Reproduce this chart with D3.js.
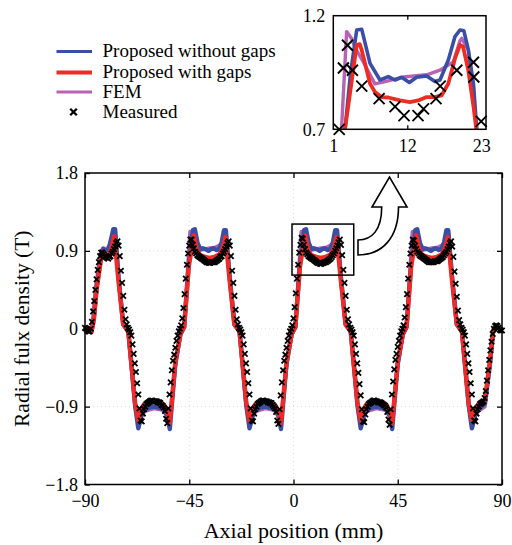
<!DOCTYPE html>
<html><head><meta charset="utf-8">
<script src="https://cdn.jsdelivr.net/npm/d3@7"></script>
<style>
html,body{margin:0;padding:0;background:#fff;}
text{font-family:"Liberation Serif","Times New Roman",serif;fill:#000;}
</style></head>
<body><svg id="c" width="512" height="545"></svg>
<script>
// ---------- DATA ----------
const xTicks = [-90, -45, 0, 45, 90];
const yTicks = [-1.8, -0.9, 0, 0.9, 1.8];
const insetXTicks = [1, 12, 23];
const insetYTicks = [0.7, 1.2];
const legendLabels = ["Proposed without gaps", "Proposed with gaps", "FEM", "Measured"];

const blueX = [-90,-88.6,-87.2,-86.2,-85.0,-83.0,-82.1,-80.8,-79.8,-78.6,-77.8,-77.0,
 -75.5,-73.5,-71.3,-68.4,-67.0,-65.8,-64.6,-62.2,-60.2,
 -58.2,-56.2,-54.6,-53.4,-51.0,-48.8,-47.2,-45.2,-43.4,-42.6,-41.4,-40.2,-39.2,-38.0,-36.7,-35.6,-34.4,-33.2,-32.2,-31.0,-30.0,-29.2,-27.5,-25.5,-23.3,-20.4,-19.0,-17.8,-16.6,-14.2,-12.2,
 -10.2,-8.2,-6.6,-5.4,-3.0,-0.8,0.8,2.8,4.6,5.4,6.6,7.8,8.8,10.0,11.3,12.4,13.6,14.8,15.8,17.0,18.0,18.8,20.5,22.5,24.7,27.6,29.0,30.2,31.4,33.8,35.8,
 37.8,39.8,41.4,42.6,45.0,47.2,48.8,50.8,52.6,53.4,54.6,55.8,56.8,58.0,59.3,60.4,61.6,62.8,63.8,65.0,66.0,66.8,68.5,70.5,72.7,75.6,77.0,
 78.2,79.6,81.2,82.6,84.8,86.2,87.7,90];
const blueB = [0.02,0.0,-0.03,0.12,0.48,0.86,0.92,0.90,0.92,1.05,1.15,1.15,
 0.58,0.05,-0.03,-0.88,-1.15,-1.02,-0.94,-0.91,-0.90,
 -0.91,-0.93,-1.0,-1.16,-0.40,-0.06,0.02,0.76,1.14,1.15,0.99,0.92,0.93,0.92,0.90,0.92,0.93,0.91,0.92,1.0,1.14,1.14,0.58,0.05,-0.03,-0.88,-1.15,-1.02,-0.94,-0.91,-0.90,
 -0.91,-0.93,-1.0,-1.16,-0.40,-0.06,0.02,0.76,1.14,1.15,0.99,0.92,0.93,0.92,0.90,0.92,0.93,0.91,0.92,1.0,1.14,1.14,0.58,0.05,-0.03,-0.88,-1.15,-1.02,-0.94,-0.91,-0.90,
 -0.91,-0.93,-1.0,-1.16,-0.40,-0.06,0.02,0.76,1.14,1.15,0.99,0.92,0.93,0.92,0.90,0.92,0.93,0.91,0.92,1.0,1.14,1.14,0.58,0.05,-0.03,-0.88,-1.15,
 -1.02,-0.93,-0.90,-0.86,-0.40,-0.02,0.03,-0.03];

const redX = [-90,-88.6,-87.2,-86.2,-85.0,-83.0,-82.1,-80.8,-79.8,-78.6,-77.4,
 -75.5,-73.5,-71.3,-68.4,-67.0,-65.8,-64.4,-62.2,-60.2,
 -58.0,-56.0,-54.6,-53.4,-51.0,-48.8,-47.2,-45.2,-43.0,-41.8,-40.4,-38.2,-36.2,-34.2,-32.0,-30.6,-29.4,-27.5,-25.5,-23.3,-20.4,-19.0,-17.8,-16.4,-14.2,-12.2,
 -10.0,-8.0,-6.6,-5.4,-3.0,-0.8,0.8,2.8,5.0,6.2,7.6,9.8,11.8,13.8,16.0,17.4,18.6,20.5,22.5,24.7,27.6,29.0,30.2,31.6,33.8,35.8,
 38.0,40.0,41.4,42.6,45.0,47.2,48.8,50.8,53.0,54.2,55.6,57.8,59.8,61.8,64.0,65.4,66.6,68.5,70.5,72.7,75.6,77.0,
 78.2,79.6,81.2,82.6,84.8,86.2,87.7,90];
const redB = [0.01,0.0,-0.04,0.10,0.45,0.82,0.89,0.84,0.84,0.93,1.07,
 0.54,0.05,-0.03,-0.85,-1.06,-0.93,-0.87,-0.85,-0.84,
 -0.86,-0.88,-0.95,-1.09,-0.38,-0.06,0.02,0.72,1.08,0.92,0.85,0.83,0.82,0.83,0.86,0.93,1.06,0.54,0.05,-0.03,-0.85,-1.06,-0.93,-0.87,-0.85,-0.84,
 -0.86,-0.88,-0.95,-1.09,-0.38,-0.06,0.02,0.72,1.08,0.92,0.85,0.83,0.82,0.83,0.86,0.93,1.06,0.54,0.05,-0.03,-0.85,-1.06,-0.93,-0.87,-0.85,-0.84,
 -0.86,-0.88,-0.95,-1.09,-0.38,-0.06,0.02,0.72,1.08,0.92,0.85,0.83,0.82,0.83,0.86,0.93,1.06,0.54,0.05,-0.03,-0.85,-1.06,
 -0.93,-0.88,-0.85,-0.82,-0.38,-0.02,0.03,-0.03];

const femX = [-90,-88.6,-87.4,-86.4,-85.2,-83.2,-82.2,-80.8,-79.6,-78.4,-77.6,-77.0,
 -75.5,-73.5,-71.3,-68.4,-66.8,-65.6,-64.2,-60.2,
 -56.2,-54.6,-53.6,-51.0,-48.8,-47.2,-45.8,-44.6,-43.8,-42.4,-40.8,-38.2,-36.2,-33.6,-32.0,-30.4,-29.6,-29.2,-27.5,-25.5,-23.3,-20.4,-18.8,-17.6,-16.2,-12.2,
 -8.2,-6.6,-5.6,-3.0,-0.8,0.8,2.2,3.4,4.2,5.6,7.2,9.8,11.8,14.4,16.0,17.6,18.4,18.8,20.5,22.5,24.7,27.6,29.2,30.4,31.8,35.8,
 39.8,41.4,42.4,45.0,47.2,48.8,50.2,51.4,52.2,53.6,55.2,57.8,59.8,62.4,64.0,65.6,66.4,66.8,68.5,70.5,72.7,75.6,77.2,
 78.4,79.8,82.6,84.8,86.2,87.7,90];
const femB = [0.02,0.0,-0.03,0.15,0.50,0.88,0.93,0.92,0.95,1.04,1.11,1.10,
 0.60,0.06,-0.03,-0.88,-1.13,-1.0,-0.95,-0.92,
 -0.94,-1.0,-1.12,-0.42,-0.07,0.02,0.60,1.12,1.09,0.99,0.91,0.92,0.93,0.94,0.96,1.0,1.09,1.10,0.60,0.06,-0.03,-0.88,-1.13,-1.0,-0.95,-0.92,
 -0.94,-1.0,-1.12,-0.42,-0.07,0.02,0.60,1.12,1.09,0.99,0.91,0.92,0.93,0.94,0.96,1.0,1.09,1.10,0.60,0.06,-0.03,-0.88,-1.13,-1.0,-0.95,-0.92,
 -0.94,-1.0,-1.12,-0.42,-0.07,0.02,0.60,1.12,1.09,0.99,0.91,0.92,0.93,0.94,0.96,1.0,1.09,1.10,0.60,0.06,-0.03,-0.88,-1.13,
 -1.0,-0.95,-0.90,-0.42,-0.03,0.03,-0.03];

const measX = [
 -90,-89.5,-89,-88.5,-88,-87.5,-87,-86.5,-86,-85.5,-85,-84.5,-84,-83.5,-83,-82.5,-82,-81.5,-81,-80.5,
 -80,-79.5,-79,-78.5,-78,-77.5,-77,-76.5,-76,-75.5,-75,-74.5,-74,-73.5,-73,-72.5,-72,-71.5,-71,-70.5,
 -70,-69.5,-69,-68.5,-68,-67.5,-67,-66.5,-66,-65.5,-65,-64.5,-64,-63.5,-63,-62.5,-62,-61.5,-61,-60.5,
 -60,-59.5,-59,-58.5,-58,-57.5,-57,-56.5,-56,-55.5,-55,-54.5,-54,-53.5,-53,-52.5,-52,-51.5,-51,-50.5,
 -50,-49.5,-49,-48.5,-48,-47.5,-47,-46.5,-46,-45.5,-45,-44.5,-44,-43.5,-43,-42.5,-42,-41.5,-41,-40.5,
 -40,-39.5,-39,-38.5,-38,-37.5,-37,-36.5,-36,-35.5,-35,-34.5,-34,-33.5,-33,-32.5,-32,-31.5,-31,-30.5,
 -30,-29.5,-29,-28.5,-28,-27.5,-27,-26.5,-26,-25.5,-25,-24.5,-24,-23.5,-23,-22.5,-22,-21.5,-21,-20.5,
 -20,-19.5,-19,-18.5,-18,-17.5,-17,-16.5,-16,-15.5,-15,-14.5,-14,-13.5,-13,-12.5,-12,-11.5,-11,-10.5,
 -10,-9.5,-9,-8.5,-8,-7.5,-7,-6.5,-6,-5.5,-5,-4.5,-4,-3.5,-3,-2.5,-2,-1.5,-1,-0.5,
 0,0.5,1,1.5,2,2.5,3,3.5,4,4.5,5,5.5,6,6.5,7,7.5,8,8.5,9,9.5,
 10,10.5,11,11.5,12,12.5,13,13.5,14,14.5,15,15.5,16,16.5,17,17.5,18,18.5,19,19.5,
 20,20.5,21,21.5,22,22.5,23,23.5,24,24.5,25,25.5,26,26.5,27,27.5,28,28.5,29,29.5,
 30,30.5,31,31.5,32,32.5,33,33.5,34,34.5,35,35.5,36,36.5,37,37.5,38,38.5,39,39.5,
 40,40.5,41,41.5,42,42.5,43,43.5,44,44.5,45,45.5,46,46.5,47,47.5,48,48.5,49,49.5,
 50,50.5,51,51.5,52,52.5,53,53.5,54,54.5,55,55.5,56,56.5,57,57.5,58,58.5,59,59.5,
 60,60.5,61,61.5,62,62.5,63,63.5,64,64.5,65,65.5,66,66.5,67,67.5,68,68.5,69,69.5,
 70,70.5,71,71.5,72,72.5,73,73.5,74,74.5,75,75.5,76,76.5,77,77.5,78,78.5,79,79.5,
 80,80.5,81,81.5,82,82.5,83,83.5,84,84.5,85,85.5,86,86.5,87,87.5,88,88.5,89,89.5,
 90];
const measB = [
 // x -90 .. -80.5
 0.01,0.00,-0.02,-0.03,-0.03,0.00,0.08,0.20,0.32,0.45,0.57,0.68,0.77,0.84,0.88,0.88,0.86,0.84,0.83,0.82,
 // x -80 .. -60.5
 0.81,0.83,0.84,0.87,0.89,0.92,0.95,0.99,1.01,0.96,0.84,0.67,0.53,0.38,0.22,0.11,0.05,0.01,-0.01,-0.04,
 -0.08,-0.18,-0.29,-0.40,-0.50,-0.63,-0.76,-0.92,-1.06,-1.07,-0.98,-0.93,-0.90,-0.87,-0.86,-0.85,-0.84,-0.83,-0.83,-0.84,
 // x -60 .. -12.5
 -0.84,-0.84,-0.84,-0.85,-0.85,-0.86,-0.88,-0.89,-0.91,-0.95,-1.04,-1.09,
 -0.92,-0.76,-0.62,-0.48,-0.37,-0.30,-0.22,-0.14,-0.08,-0.03,0.00,0.04,
 0.12,0.24,0.40,0.58,0.74,0.87,0.96,1.03,1.03,0.97,0.93,0.89,
 0.87,0.85,0.84,0.83,0.82,0.81,0.80,0.79,0.78,0.77,0.77,0.76,
 0.76,0.77,0.77,0.77,0.77,0.78,0.79,0.80,0.81,0.83,0.84,0.87,
 0.89,0.92,0.95,0.99,1.01,0.96,0.84,0.67,0.53,0.38,0.22,0.11,
 0.05,0.01,-0.01,-0.04,-0.08,-0.18,-0.29,-0.40,-0.50,-0.63,-0.76,-0.92,
 -1.06,-1.07,-0.98,-0.93,-0.90,-0.87,-0.86,-0.85,-0.84,-0.83,-0.83,-0.84,
 // x -12 .. 35.5
 -0.84,-0.84,-0.85,-0.85,-0.86,-0.86,-0.88,-0.90,-0.92,-0.96,-1.06,-1.10,
 -0.93,-0.77,-0.62,-0.48,-0.37,-0.30,-0.22,-0.14,-0.08,-0.03,0.00,0.04,
 0.12,0.25,0.41,0.58,0.74,0.88,0.97,1.05,1.04,0.97,0.92,0.88,
 0.86,0.84,0.83,0.82,0.81,0.80,0.79,0.78,0.77,0.76,0.76,0.75,
 0.75,0.76,0.76,0.77,0.77,0.78,0.79,0.80,0.81,0.83,0.85,0.87,
 0.90,0.93,0.96,1.00,1.03,0.97,0.85,0.68,0.53,0.38,0.22,0.11,
 0.05,0.01,-0.01,-0.04,-0.08,-0.18,-0.29,-0.40,-0.51,-0.64,-0.77,-0.93,
 -1.07,-1.08,-0.99,-0.93,-0.90,-0.87,-0.86,-0.85,-0.84,-0.83,-0.83,-0.84,
 // x 36 .. 77
 -0.84,-0.85,-0.85,-0.85,-0.86,-0.87,-0.88,-0.89,-0.91,-0.96,-1.05,-1.11,
 -0.93,-0.76,-0.61,-0.47,-0.36,-0.29,-0.21,-0.14,-0.08,-0.03,0.00,0.04,
 0.13,0.25,0.40,0.58,0.74,0.87,0.96,1.03,1.02,0.96,0.92,0.89,
 0.87,0.85,0.84,0.83,0.82,0.81,0.80,0.79,0.78,0.77,0.77,0.77,
 0.77,0.77,0.78,0.78,0.78,0.79,0.80,0.81,0.82,0.83,0.85,0.87,
 0.89,0.92,0.95,0.99,1.01,0.95,0.83,0.66,0.52,0.37,0.21,0.10,
 0.05,0.01,-0.01,-0.04,-0.08,-0.18,-0.29,-0.40,-0.50,-0.63,-0.76,
 // x 77.5 .. 90
 -0.92,-1.06,-1.07,-0.98,-0.93,-0.90,-0.87,-0.86,-0.85,-0.84,-0.80,-0.72,-0.60,-0.48,-0.36,-0.25,-0.15,-0.06,0.00,0.03,
 0.04,0.03,0.01,-0.01,-0.02,-0.02];

// zoomed window in the main plot (data units)
const zoomBoxX = [0, 26];
const zoomBoxB = [0.62, 1.21];

// inset (sample index vs T)
const insetBlueX = [2.44,2.74,3.58,4.48,5.23,6.46,7.94,9.18,10.17,11.16,12.30,13.38,14.88,16.11,16.86,18.10,19.09,19.83,20.40,21.07,21.84,22.31,22.56];
const insetBlueB = [0.60,0.70,0.95,1.137,1.14,0.99,0.917,0.932,0.917,0.929,0.906,0.929,0.935,0.91,0.917,1.005,1.108,1.137,1.134,1.05,0.90,0.704,0.60];
const insetRedX = [2.55,2.74,4.48,4.92,5.23,6.46,7.19,8.19,9.18,10.90,12.39,13.63,14.88,16.11,17.09,18.10,19.09,19.83,20.29,21.07,21.84,22.25,22.46];
const insetRedB = [0.60,0.70,1.071,1.075,1.048,0.901,0.864,0.842,0.84,0.827,0.82,0.827,0.842,0.842,0.849,0.901,1.012,1.071,1.064,0.96,0.80,0.704,0.60];
const insetFemX = [2.03,2.24,2.98,3.72,4.23,5.48,7.19,8.69,11.42,14.88,16.86,18.85,19.83,20.09,21.07,22.31,22.56];
const insetFemB = [0.60,0.71,1.13,1.10,1.06,0.995,0.90,0.91,0.93,0.94,0.96,0.997,1.09,1.10,1.05,0.71,0.60];
const insetMeasX = [1.88,2.50,3.11,3.84,5.23,7.81,10.18,11.52,13.59,14.41,16.27,16.89,19.36,21.84,21.89,22.98];
const insetMeasB = [0.70,0.97,1.07,0.96,0.89,0.835,0.80,0.76,0.76,0.79,0.835,0.89,0.96,0.995,0.93,0.735];

// ---------- STYLE ----------
const C_BLUE = "#3b4ea6", C_RED = "#ee2b25", C_FEM = "#b862b6";
const FONT = 18;

const svg = d3.select("#c");
const x = d3.scaleLinear().domain([-90, 90]).range([85, 502]);
const y = d3.scaleLinear().domain([-1.8, 1.8]).range([484.5, 173]);
const xi = d3.scaleLinear().domain([1, 23.7]).range([333.3, 486]);
const yi = d3.scaleLinear().domain([0.7, 1.2]).range([129.3, 15.7]);
const fmt = d => d < 0 ? "\u2212" + Math.abs(d) : String(d);

// clip paths
const defs = svg.append("defs");
defs.append("clipPath").attr("id", "mainClip").append("rect")
  .attr("x", x(-90)).attr("y", y(1.8)).attr("width", x(90) - x(-90)).attr("height", y(-1.8) - y(1.8));
defs.append("clipPath").attr("id", "insetClip").append("rect")
  .attr("x", xi(1)).attr("y", yi(1.2)).attr("width", xi(23.7) - xi(1)).attr("height", yi(0.7) - yi(1.2));

// grid (faint dotted)
const grid = svg.append("g").attr("stroke", "#d4d4d4").attr("stroke-width", 0.8).attr("stroke-dasharray", "1,3");
xTicks.slice(1, -1).forEach(t => grid.append("line").attr("x1", x(t)).attr("x2", x(t)).attr("y1", y(1.8)).attr("y2", y(-1.8)));
yTicks.slice(1, -1).forEach(t => grid.append("line").attr("y1", y(t)).attr("y2", y(t)).attr("x1", x(-90)).attr("x2", x(90)));

// axes
function styleAxis(g) {
  g.select(".domain").remove();
  g.selectAll(".tick line").attr("stroke", "#000").attr("stroke-width", 1.3);
  g.selectAll(".tick text").style("font-family", '"Liberation Serif",serif').style("font-size", FONT + "px").attr("fill", "#000");
}
svg.append("g").attr("transform", `translate(0,${y(-1.8)})`)
  .call(d3.axisBottom(x).tickValues(xTicks).tickSize(-5).tickPadding(10).tickFormat(fmt)).call(styleAxis);
svg.append("g").attr("transform", `translate(0,${y(1.8)})`)
  .call(d3.axisTop(x).tickValues(xTicks).tickSize(-5).tickFormat("")).call(styleAxis);
svg.append("g").attr("transform", `translate(${x(-90)},0)`)
  .call(d3.axisLeft(y).tickValues(yTicks).tickSize(-5).tickPadding(7).tickFormat(fmt)).call(styleAxis);
svg.append("g").attr("transform", `translate(${x(90)},0)`)
  .call(d3.axisRight(y).tickValues(yTicks).tickSize(-5).tickFormat("")).call(styleAxis);

// lines
const zip = (xs, ys) => xs.map((v, i) => [v, ys[i]]);
const line = d3.line().x(d => x(d[0])).y(d => y(d[1]));
const plot = svg.append("g").attr("clip-path", "url(#mainClip)");
plot.append("path").datum(zip(femX, femB)).attr("d", line).attr("fill", "none").attr("stroke", C_FEM).attr("stroke-width", 4).attr("stroke-linejoin", "round");
plot.append("path").datum(zip(blueX, blueB)).attr("d", line).attr("fill", "none").attr("stroke", C_BLUE).attr("stroke-width", 4.4).attr("stroke-linejoin", "round");
plot.append("path").datum(zip(redX, redB)).attr("d", line).attr("fill", "none").attr("stroke", C_RED).attr("stroke-width", 4.4).attr("stroke-linejoin", "round");

// measured markers
const xMark = s => `M${-s},${-s}L${s},${s}M${-s},${s}L${s},${-s}`;
svg.append("g").selectAll("path").data(zip(measX, measB)).join("path")
  .attr("transform", d => `translate(${x(d[0])},${y(d[1])})`)
  .attr("d", xMark(2.7)).attr("stroke", "#000").attr("stroke-width", 1.8).attr("fill", "none");

// frame
svg.append("rect").attr("x", x(-90)).attr("y", y(1.8)).attr("width", x(90) - x(-90)).attr("height", y(-1.8) - y(1.8))
  .attr("fill", "none").attr("stroke", "#000").attr("stroke-width", 1.5);

// zoom box
svg.append("rect").attr("x", x(zoomBoxX[0]) - 1.5).attr("y", y(zoomBoxB[1]))
  .attr("width", x(zoomBoxX[1]) - x(zoomBoxX[0]) + 1.5).attr("height", y(zoomBoxB[0]) - y(zoomBoxB[1]))
  .attr("fill", "none").attr("stroke", "#000").attr("stroke-width", 1.5);

// hollow curved arrow
svg.append("path")
  .attr("d", "M358,240 C372,240 381.7,230 381.7,207 L372,207 L389.5,177 L407,207 L398.5,207 C398.5,238 382,255 358,255 Z")
  .attr("fill", "#fff").attr("stroke", "#000").attr("stroke-width", 1.6).attr("stroke-linejoin", "miter");

// axis titles
svg.append("text").attr("x", x(0)).attr("y", 538).attr("text-anchor", "middle")
  .style("font-size", "22px").text("Axial position (mm)");
svg.append("text").attr("transform", `translate(29,${y(0)}) rotate(-90)`).attr("text-anchor", "middle")
  .style("font-size", "21.5px").text("Radial fulx density (T)");

// legend
const legY = [51.5, 72.5, 92, 112];
const legColors = [C_BLUE, C_RED, C_FEM];
const legW = [3.2, 4.2, 3.2];
const leg = svg.append("g");
legendLabels.forEach((lab, i) => {
  if (i < 3) {
    leg.append("line").attr("x1", 56.5).attr("x2", 92).attr("y1", legY[i]).attr("y2", legY[i])
      .attr("stroke", legColors[i]).attr("stroke-width", legW[i]);
  } else {
    leg.append("path").attr("transform", `translate(73.5,${legY[i]})`).attr("d", xMark(3.3))
      .attr("stroke", "#000").attr("stroke-width", 2.3).attr("fill", "none");
  }
  leg.append("text").attr("x", 102.5).attr("y", legY[i] + 5.5).style("font-size", "19px").text(lab);
});

// ---------- INSET ----------
const lineI = d3.line().x(d => xi(d[0])).y(d => yi(d[1]));
svg.append("rect").attr("x", xi(1)).attr("y", yi(1.2)).attr("width", xi(23.7) - xi(1)).attr("height", yi(0.7) - yi(1.2)).attr("fill", "#fff");
const ins = svg.append("g").attr("clip-path", "url(#insetClip)");
ins.append("path").datum(zip(insetFemX, insetFemB)).attr("d", lineI).attr("fill", "none").attr("stroke", C_FEM).attr("stroke-width", 3.4).attr("stroke-linejoin", "round");
ins.append("path").datum(zip(insetBlueX, insetBlueB)).attr("d", lineI).attr("fill", "none").attr("stroke", C_BLUE).attr("stroke-width", 3.6).attr("stroke-linejoin", "round");
ins.append("path").datum(zip(insetRedX, insetRedB)).attr("d", lineI).attr("fill", "none").attr("stroke", C_RED).attr("stroke-width", 3.8).attr("stroke-linejoin", "round");
svg.append("g").selectAll("path").data(zip(insetMeasX, insetMeasB)).join("path")
  .attr("transform", d => `translate(${xi(d[0])},${yi(d[1])})`)
  .attr("d", xMark(5.5)).attr("stroke", "#000").attr("stroke-width", 1.9).attr("fill", "none");
svg.append("g").attr("transform", `translate(0,${yi(0.7)})`)
  .call(d3.axisBottom(xi).tickValues(insetXTicks).tickSize(-4).tickPadding(10).tickFormat(d => d)).call(styleAxis)
  .selectAll(".tick line").filter(d => d !== 12).remove();
svg.append("g").attr("transform", `translate(0,${yi(1.2)})`)
  .call(d3.axisTop(xi).tickValues([12]).tickSize(-4).tickFormat("")).call(styleAxis);
svg.append("g").attr("transform", `translate(${xi(1)},0)`)
  .call(d3.axisLeft(yi).tickValues(insetYTicks).tickSize(0).tickPadding(8).tickFormat(d => d.toFixed(1))).call(styleAxis);
svg.append("rect").attr("x", xi(1)).attr("y", yi(1.2)).attr("width", xi(23.7) - xi(1)).attr("height", yi(0.7) - yi(1.2))
  .attr("fill", "none").attr("stroke", "#000").attr("stroke-width", 1.5);
</script></body></html>
